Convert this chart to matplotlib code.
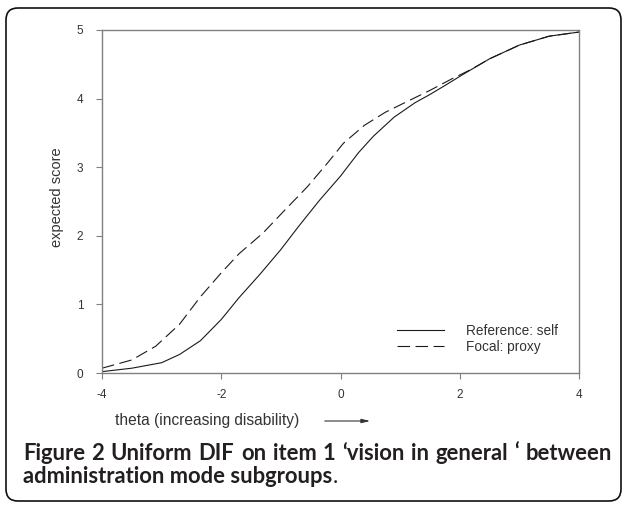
import matplotlib
matplotlib.use("Agg")
import matplotlib.pyplot as plt
from matplotlib.patches import FancyBboxPatch
from matplotlib.transforms import IdentityTransform

# expected score curves
theta_ref = [-4.0, -3.5, -3.0, -2.7, -2.35, -2.0, -1.7, -1.35, -1.0, -0.7, -0.35,
             0.0, 0.3, 0.55, 0.9, 1.25, 1.5, 1.75, 2.05, 2.5, 3.0, 3.5, 4.0]
score_ref = [0.02, 0.07, 0.15, 0.27, 0.47, 0.78, 1.10, 1.44, 1.80, 2.14, 2.52,
             2.87, 3.21, 3.45, 3.73, 3.94, 4.06, 4.19, 4.35, 4.58, 4.78, 4.91, 4.97]

theta_foc = [-4.0, -3.5, -3.1, -2.7, -2.35, -2.0, -1.7, -1.3, -0.95, -0.55, -0.2,
             0.05, 0.4, 0.75, 1.1, 1.5, 1.85, 2.2, 2.5, 3.0, 3.5, 4.0]
score_foc = [0.07, 0.19, 0.39, 0.71, 1.11, 1.46, 1.74, 2.04, 2.36, 2.72, 3.08,
             3.35, 3.61, 3.80, 3.95, 4.12, 4.28, 4.43, 4.58, 4.78, 4.91, 4.97]

xticks = [-4, -2, 0, 2, 4]
yticks = [0, 1, 2, 3, 4, 5]

plt.rcParams['font.family'] = ['Liberation Sans', 'DejaVu Sans']
plt.rcParams['axes.unicode_minus'] = False
plt.rcParams['lines.scale_dashes'] = False

W, H = 624, 505
fig = plt.figure(figsize=(W / 100, H / 100), dpi=100)
ax = fig.add_axes([102 / W, 1 - 373 / H, 477 / W, 343 / H])

ax.plot(theta_ref, score_ref, color='#1a1a1a', lw=0.8, label='Reference: self')
ax.plot(theta_foc, score_foc, color='#1a1a1a', lw=0.8, ls=(0, (9, 4)), label='Focal: proxy')

ax.set_xlim(-4, 4)
ax.set_ylim(0, 5)
ax.set_xticks(xticks)
ax.set_yticks(yticks)
for s in ax.spines.values():
    s.set_color('#808080')
    s.set_linewidth(1.0)
ax.tick_params(axis='both', direction='out', length=4.5, width=0.8, color='#808080',
               labelsize=8.5, labelcolor='#333333')
ax.tick_params(axis='y', pad=9)
ax.tick_params(axis='x', pad=7)

ax.set_xlabel('theta (increasing disability)', fontsize=11.2, color='#333333', loc='left', va='center')
ax.xaxis.set_label_coords(13 / 477, -47 / 343)
ax.set_ylabel('expected score', fontsize=10.5, color='#333333', va='center')
ax.yaxis.set_label_coords(-45 / 477, 176 / 343)

leg = ax.legend(loc='lower left', bbox_to_anchor=(0.618, 0.055), frameon=False,
                fontsize=9.8, handlelength=3.5, handletextpad=1.6, labelspacing=0.15,
                borderpad=0, borderaxespad=0)
for t in leg.get_texts():
    t.set_color('#333333')

# arrow after the x label
ax.annotate('', xy=(373, H - 421), xytext=(322, H - 421),
            xycoords='figure pixels', textcoords='figure pixels',
            arrowprops=dict(arrowstyle='-|>,head_length=0.5,head_width=0.12',
                            color='#333333', lw=0.8))

# rounded frame
box = FancyBboxPatch((6, 4), 615, 493, boxstyle='round,pad=0,rounding_size=12',
                     transform=IdentityTransform(), fill=False, ec='#111111', lw=1.2)
fig.add_artist(box)

# caption, first line justified
renderer = fig.canvas.get_renderer()
line1 = ['Figure', '2', 'Uniform', 'DIF', 'on', 'item', '1', '\u2018vision', 'in',
         'general', '\u2018', 'between']
left, right = 23, 612
size = 12.5
probe = [fig.text(0, 0, w, family='Lato', size=size, weight='bold') for w in line1]
natural = sum(t.get_window_extent(renderer).width for t in probe)
for t in probe:
    t.remove()
size = size * (right - left - 6.5 * (len(line1) - 1)) / natural
cap_font = dict(family='Lato', size=size, color='#231f20', weight='bold')

texts = [fig.text(0, (H - 460) / H, w, va='baseline', ha='left', **cap_font) for w in line1]
widths = [t.get_window_extent(renderer).width for t in texts]
gap = (right - left - sum(widths)) / (len(line1) - 1)
x = left
for t, w in zip(texts, widths):
    t.set_x(x / W)
    x += w + gap

t2 = fig.text(left / W, (H - 483) / H, 'administration mode subgroups', va='baseline',
              ha='left', **cap_font)
w2 = t2.get_window_extent(renderer).width
fig.text((left + w2) / W, (H - 483) / H, '.', va='baseline', ha='left',
         family='Lato', size=size, color='#231f20')

fig.savefig('out.png', dpi=100)
